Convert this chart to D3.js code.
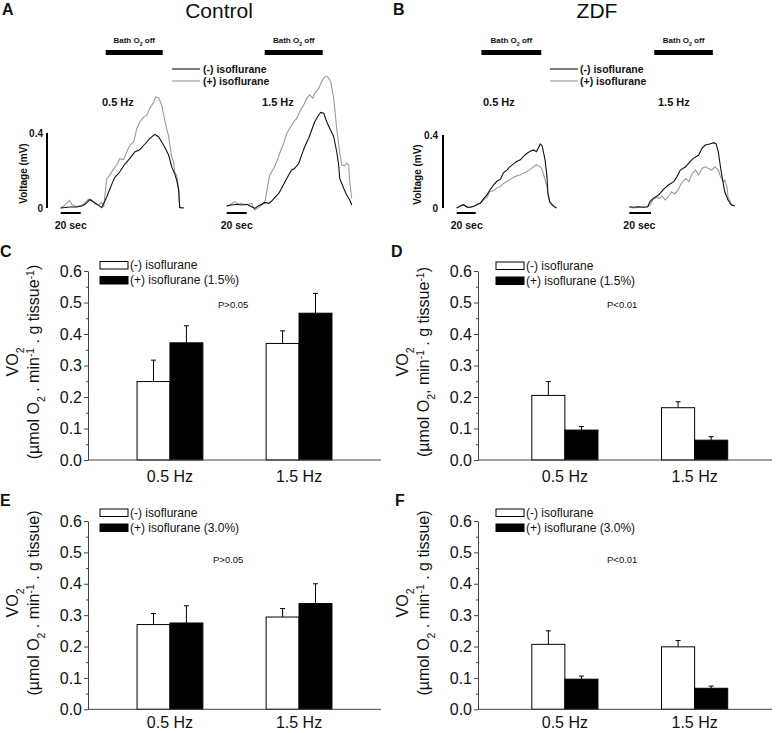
<!DOCTYPE html>
<html>
<head>
<meta charset="utf-8">
<script src="https://cdn.jsdelivr.net/npm/d3@7"></script>
<style>
  body { margin: 0; background: #fff; }
  svg { display: block; font-family: Arial, "Liberation Sans", sans-serif; }
</style>
</head>
<body>
<svg id="fig" width="777" height="733"></svg>
<script>
// ---- donnees des traces (temps en s, tension en mV) ----
const a05Minus = [[0,0],[9,.005],[16,.005],[21,.011],[24,.018],[29,.044],[33,.032],[38,.014],[41,.002],[46,.059],[51,.126],[54,.162],[59,.192],[64,.233],[69,.263],[74,.299],[79,.311],[84,.340],[89,.370],[94,.393],[98,.379],[101,.352],[104,.325],[108,.281],[111,.219],[114,.183],[116,.148],[118,.094],[119,.002],[123,0]];
const a05Plus = [[0,0],[4,.014],[9,.041],[11,.020],[14,.009],[18,.011],[21,.014],[24,.027],[28,.048],[31,.044],[34,.023],[38,.014],[41,.032],[43,.005],[46,.156],[49,.174],[53,.210],[56,.228],[59,.263],[63,.258],[66,.299],[69,.334],[73,.352],[76,.423],[79,.459],[83,.485],[86,.494],[89,.530],[93,.565],[95,.592],[98,.588],[101,.548],[104,.468],[108,.379],[111,.272],[113,.245],[114,.192],[116,.174],[118,.094],[119,.005],[123,0]];
const a15Minus = [[0,.012],[5,.016],[10,.020],[15,.016],[20,.020],[25,.007],[28,-.002],[32,.012],[35,.020],[38,.030],[42,.025],[45,.037],[48,.055],[52,.078],[55,.105],[58,.137],[62,.176],[65,.203],[68,.212],[72,.238],[75,.283],[78,.327],[82,.372],[85,.416],[88,.460],[92,.496],[94,.510],[97,.505],[100,.460],[103,.425],[107,.380],[110,.300],[112,.229],[113,.158],[117,.105],[120,.069],[123,.043],[125,.016]];
const a15Plus = [[0,.007],[3,.016],[8,.034],[12,.020],[15,.025],[18,.016],[22,.020],[25,.025],[28,-.011],[32,.002],[35,.016],[38,.025],[40,.087],[43,.176],[47,.212],[50,.247],[53,.292],[57,.345],[60,.398],[63,.425],[67,.460],[70,.478],[73,.514],[77,.549],[80,.585],[83,.603],[86,.585],[88,.612],[92,.638],[95,.674],[98,.700],[101,.700],[104,.674],[107,.585],[110,.425],[112,.336],[115,.229],[118,.226],[120,.238],[122,.229],[123,.140],[125,.052]];
const b05Minus = [[0,0],[4,.013],[7,.018],[11,.005],[14,.004],[18,.009],[21,.018],[25,.027],[28,.049],[32,.073],[35,.100],[39,.127],[42,.145],[46,.158],[49,.191],[53,.209],[56,.227],[60,.242],[63,.255],[67,.264],[70,.282],[74,.300],[77,.309],[81,.318],[84,.309],[88,.351],[90,.340],[93,.264],[95,.173],[96,.082],[98,.031],[102,.009],[105,0]];
const b05Plus = [[0,0],[4,.009],[7,.018],[11,.005],[14,.002],[18,.009],[21,.018],[25,.027],[28,.042],[32,.060],[35,.091],[39,.096],[42,.109],[46,.118],[49,.133],[53,.145],[56,.155],[60,.169],[63,.176],[67,.182],[70,.191],[74,.200],[77,.209],[81,.227],[84,.236],[88,.227],[90,.209],[93,.155],[95,.118],[96,.073],[98,.036],[102,.013],[105,0]];
const b15Minus = [[0,.007],[4,.004],[8,.007],[13,.004],[17,.007],[19,.035],[22,.053],[27,.071],[31,.099],[36,.126],[41,.144],[44,.172],[47,.208],[52,.226],[56,.254],[59,.272],[64,.290],[67,.327],[70,.345],[74,.351],[78,.358],[80,.351],[82,.309],[84,.226],[86,.153],[88,.089],[91,.044],[94,.016],[97,.011]];
const b15Plus = [[0,.004],[4,0],[8,.004],[13,.004],[17,.007],[19,.016],[22,.047],[25,.058],[28,.053],[30,.066],[33,.044],[36,.062],[39,.089],[42,.077],[45,.099],[48,.135],[52,.162],[55,.144],[58,.190],[61,.208],[64,.181],[67,.217],[70,.226],[73,.217],[76,.208],[79,.226],[82,.208],[84,.172],[87,.144],[88,.153],[90,.117],[91,.062],[94,.022],[97,.011]];
// periodes "Bath O2 off" (debut, fin en s)
const bathOff = [[45, 102], [38, 96], [26, 89], [23, 77]];

// ---- donnees des histogrammes (VO2) ----
const categories = ["0.5 Hz", "1.5 Hz"];
const cMinus = [0.249, 0.370], cMinusErr = [0.068, 0.040];
const cPlus = [0.372, 0.466], cPlusErr = [0.054, 0.063];
const dMinus = [0.205, 0.166], dMinusErr = [0.044, 0.019];
const dPlus = [0.095, 0.063], dPlusErr = [0.011, 0.011];
const eMinus = [0.270, 0.294], eMinusErr = [0.035, 0.027];
const ePlus = [0.275, 0.337], ePlusErr = [0.055, 0.063];
const fMinus = [0.207, 0.199], fMinusErr = [0.043, 0.020];
const fPlus = [0.096, 0.067], fPlusErr = [0.010, 0.007];
const yTicks = [0, 0.1, 0.2, 0.3, 0.4, 0.5, 0.6];

const svg = d3.select("#fig");
svg.append("rect").attr("width", 777).attr("height", 733).attr("fill", "#fff");

const ink = "#111";
const grayTrace = "#9a9a9a";

// texte avec indice / exposant
function richText(sel, parts) {
  parts.forEach(p => {
    const t = sel.append("tspan").text(p.t);
    if (p.sub) t.attr("baseline-shift", "sub").attr("font-size", "0.65em");
    if (p.sup) t.attr("baseline-shift", "super").attr("font-size", "0.65em");
  });
  return sel;
}

// ---- titres ----
svg.append("text").attr("x", 2).attr("y", 15).attr("font-size", 16).attr("font-weight", "bold").attr("fill", ink).text("A");
svg.append("text").attr("x", 393).attr("y", 15).attr("font-size", 16).attr("font-weight", "bold").attr("fill", ink).text("B");
svg.append("text").attr("x", 219).attr("y", 18).attr("font-size", 21).attr("text-anchor", "middle").attr("fill", ink).text("Control");
svg.append("text").attr("x", 597).attr("y", 18).attr("font-size", 21).attr("text-anchor", "middle").attr("fill", ink).text("ZDF");

// ---- panneaux de traces ----
const tracePanels = [
  { x0: 60.7, pxs: 1.0, pxmv: 187.5, minus: a05Minus, plus: a05Plus, bath: bathOff[0], hz: "0.5 Hz", hzX: 102, scale: { x: 47, label: 43, vlab: 27 } },
  { x0: 226.7, pxs: 1.0, pxmv: 187.5, minus: a15Minus, plus: a15Plus, bath: bathOff[1], hz: "1.5 Hz", hzX: 262 },
  { x0: 456.7, pxs: 0.95, pxmv: 182.5, minus: b05Minus, plus: b05Plus, bath: bathOff[2], hz: "0.5 Hz", hzX: 483, scale: { x: 443, label: 438, vlab: 421 } },
  { x0: 629.3, pxs: 1.085, pxmv: 182.5, minus: b15Minus, plus: b15Plus, bath: bathOff[3], hz: "1.5 Hz", hzX: 658 }
];
const traceBase = 208;

tracePanels.forEach(p => {
  const g = svg.append("g");
  const x = d3.scaleLinear().domain([0, 100]).range([p.x0, p.x0 + 100 * p.pxs]);
  const y = d3.scaleLinear().domain([0, 0.4]).range([traceBase, traceBase - 0.4 * p.pxmv]);
  const line = d3.line().x(d => x(d[0])).y(d => y(d[1]));

  g.append("path").datum(p.plus).attr("d", line).attr("fill", "none").attr("stroke", grayTrace).attr("stroke-width", 1.1);
  g.append("path").datum(p.minus).attr("d", line).attr("fill", "none").attr("stroke", ink).attr("stroke-width", 1.1);

  // barre Bath O2 off
  g.append("rect").attr("x", x(p.bath[0])).attr("y", 50).attr("width", x(p.bath[1]) - x(p.bath[0])).attr("height", 5).attr("fill", "#000");
  richText(g.append("text").attr("x", (x(p.bath[0]) + x(p.bath[1])) / 2).attr("y", 43)
    .attr("text-anchor", "middle").attr("font-size", 8).attr("font-weight", "bold").attr("fill", ink),
    [{ t: "Bath O" }, { t: "2", sub: true }, { t: " off" }]);

  g.append("text").attr("x", p.hzX).attr("y", 106).attr("font-size", 11).attr("font-weight", "bold").attr("fill", ink).text(p.hz);

  // barre 20 sec
  g.append("line").attr("x1", x(0)).attr("x2", x(20)).attr("y1", 213).attr("y2", 213).attr("stroke", "#000").attr("stroke-width", 2);
  g.append("text").attr("x", x(0) - 6).attr("y", 229).attr("font-size", 10.5).attr("font-weight", "bold").attr("fill", ink).text("20 sec");

  if (p.scale) {
    g.append("line").attr("x1", p.scale.x).attr("x2", p.scale.x).attr("y1", y(0)).attr("y2", y(0.4)).attr("stroke", "#000").attr("stroke-width", 2);
    g.append("text").attr("x", p.scale.label).attr("y", y(0.4) + 4).attr("text-anchor", "end").attr("font-size", 10).attr("font-weight", "bold").attr("fill", ink).text("0.4");
    g.append("text").attr("x", p.scale.label).attr("y", y(0) + 4).attr("text-anchor", "end").attr("font-size", 10).attr("font-weight", "bold").attr("fill", ink).text("0");
    g.append("text").attr("transform", `translate(${p.scale.vlab},${(y(0) + y(0.4)) / 2 + 3}) rotate(-90)`)
      .attr("text-anchor", "middle").attr("font-size", 10).attr("font-weight", "bold").attr("fill", ink).text("Voltage (mV)");
  }
});

// legendes des traces
[{ x: 172, tx: 203 }, { x: 550, tx: 580 }].forEach(l => {
  svg.append("line").attr("x1", l.x).attr("x2", l.x + 28).attr("y1", 69).attr("y2", 69).attr("stroke", ink).attr("stroke-width", 1.1);
  svg.append("line").attr("x1", l.x).attr("x2", l.x + 28).attr("y1", 81).attr("y2", 81).attr("stroke", grayTrace).attr("stroke-width", 1.1);
  svg.append("text").attr("x", l.tx).attr("y", 73).attr("font-size", 10.5).attr("font-weight", "bold").attr("fill", ink).text("(-) isoflurane");
  svg.append("text").attr("x", l.tx).attr("y", 85).attr("font-size", 10.5).attr("font-weight", "bold").attr("fill", ink).text("(+) isoflurane");
});

// ---- panneaux histogrammes ----
function barPanel(o) {
  const g = svg.append("g");
  const y = d3.scaleLinear().domain([0, 0.6]).range([o.bottom, o.top]);
  const x = d3.scaleBand().domain(categories).range(o.band).paddingInner(0.49).paddingOuter(0.38);
  const xs = d3.scaleBand().domain(["minus", "plus"]).range([0, x.bandwidth()]);

  const rows = categories.map((c, i) => [
    { cat: c, key: "minus", v: o.minus[i], e: o.minusErr[i] },
    { cat: c, key: "plus", v: o.plus[i], e: o.plusErr[i] }
  ]).flat();

  // barres d'erreur (vers le haut seulement)
  rows.forEach(d => {
    const cx = x(d.cat) + xs(d.key) + xs.bandwidth() / 2;
    g.append("line").attr("x1", cx).attr("x2", cx).attr("y1", y(d.v)).attr("y2", y(d.v + d.e)).attr("stroke", "#000").attr("stroke-width", 1);
    g.append("line").attr("x1", cx - 2.5).attr("x2", cx + 2.5).attr("y1", y(d.v + d.e)).attr("y2", y(d.v + d.e)).attr("stroke", "#000").attr("stroke-width", 1);
  });

  g.selectAll("rect.bar").data(rows).enter().append("rect")
    .attr("class", "bar")
    .attr("x", d => x(d.cat) + xs(d.key))
    .attr("y", d => y(d.v))
    .attr("width", xs.bandwidth())
    .attr("height", d => y(0) - y(d.v))
    .attr("fill", d => d.key === "plus" ? "#000" : "#fff")
    .attr("stroke", "#000").attr("stroke-width", 1);

  // axe Y
  const minor = d3.axisLeft(y).tickValues(d3.range(0.05, 0.6, 0.1)).tickSize(2).tickFormat("");
  g.append("g").attr("transform", `translate(${o.left},0)`).call(minor)
    .call(a => a.select(".domain").remove())
    .selectAll("line").attr("stroke", "#444");
  const ya = g.append("g").attr("transform", `translate(${o.left},0)`)
    .call(d3.axisLeft(y).tickValues(yTicks).tickFormat(d3.format(".1f")).tickSize(4).tickSizeOuter(0).tickPadding(2));
  ya.select(".domain").attr("stroke", "#444");
  ya.selectAll("line").attr("stroke", "#444");
  ya.selectAll("text").attr("font-size", 16).attr("fill", ink).attr("font-family", "Arial, 'Liberation Sans', sans-serif");

  // axe X
  g.append("line").attr("x1", o.left).attr("x2", o.right).attr("y1", y(0)).attr("y2", y(0)).attr("stroke", "#444");
  const xa = g.append("g").attr("transform", `translate(0,${y(0)})`)
    .call(d3.axisBottom(x).tickSize(0).tickPadding(o.xPad));
  xa.select(".domain").remove();
  xa.selectAll("text").attr("font-size", 16).attr("fill", ink).attr("font-family", "Arial, 'Liberation Sans', sans-serif");

  // titre axe Y
  richText(g.append("text").attr("transform", `translate(${o.left - 70},${o.labelY}) rotate(-90)`)
    .attr("text-anchor", "middle").attr("font-size", 16).attr("fill", ink),
    [{ t: "VO" }, { t: "2", sub: true }]);
  richText(g.append("text").attr("transform", `translate(${o.left - 49},${o.labelY}) rotate(-90)`)
    .attr("text-anchor", "middle").attr("font-size", 16).attr("fill", ink), o.ylabel);

  // legende
  g.append("rect").attr("x", o.legX).attr("y", o.legY).attr("width", 28).attr("height", 7.5).attr("fill", "#fff").attr("stroke", "#000");
  g.append("rect").attr("x", o.legX).attr("y", o.legY + 15).attr("width", 28).attr("height", 7.5).attr("fill", "#000").attr("stroke", "#000");
  g.append("text").attr("x", o.legX + 30).attr("y", o.legY + 7.5).attr("font-size", 12).attr("fill", ink).text("(-) isoflurane");
  g.append("text").attr("x", o.legX + 30).attr("y", o.legY + 22.5).attr("font-size", 12).attr("fill", ink).text(o.plusLabel);

  g.append("text").attr("x", o.pX).attr("y", o.pY).attr("font-size", 9.5).attr("fill", ink).text(o.pText);
  g.append("text").attr("x", o.letterX).attr("y", o.letterY).attr("font-size", 16).attr("font-weight", "bold").attr("fill", ink).text(o.letter);
}

const labelC = [{ t: "(µmol O" }, { t: "2", sub: true }, { t: " . min" }, { t: "-1", sup: true }, { t: " . g tissue" }, { t: "-1", sup: true }, { t: ")" }];
const labelD = [{ t: "(µmol O" }, { t: "2", sub: true }, { t: ", min" }, { t: "-1", sup: true }, { t: " . g tissue" }, { t: "-1", sup: true }, { t: ")" }];
const labelE = [{ t: "(µmol O" }, { t: "2", sub: true }, { t: " . min" }, { t: "-1", sup: true }, { t: " . g tissue)" }];

barPanel({ left: 88, right: 381, band: [88, 381], top: 271, bottom: 460, xPad: 11, minus: cMinus, minusErr: cMinusErr, plus: cPlus, plusErr: cPlusErr,
  ylabel: labelC, labelY: 362, legX: 100, legY: 261.5, plusLabel: "(+) isoflurane (1.5%)", pText: "P>0.05", pX: 218, pY: 308, letter: "C", letterX: 0, letterY: 257 });
barPanel({ left: 478, right: 772, band: [482.5, 777], top: 271, bottom: 460, xPad: 11, minus: dMinus, minusErr: dMinusErr, plus: dPlus, plusErr: dPlusErr,
  ylabel: labelD, labelY: 362, legX: 496, legY: 262, plusLabel: "(+) isoflurane (1.5%)", pText: "P<0.01", pX: 607, pY: 308, letter: "D", letterX: 391, letterY: 257 });
barPanel({ left: 88, right: 381, band: [88, 381], top: 521, bottom: 709.3, xPad: 7.5, minus: eMinus, minusErr: eMinusErr, plus: ePlus, plusErr: ePlusErr,
  ylabel: labelE, labelY: 603, legX: 100, legY: 509, plusLabel: "(+) isoflurane (3.0%)", pText: "P>0.05", pX: 213, pY: 562.5, letter: "E", letterX: 0, letterY: 506 });
barPanel({ left: 478, right: 772, band: [482.5, 777], top: 521, bottom: 709.3, xPad: 7.5, minus: fMinus, minusErr: fMinusErr, plus: fPlus, plusErr: fPlusErr,
  ylabel: labelE, labelY: 603, legX: 496, legY: 509, plusLabel: "(+) isoflurane (3.0%)", pText: "P<0.01", pX: 607, pY: 562.5, letter: "F", letterX: 395, letterY: 506 });
</script>
</body>
</html>
